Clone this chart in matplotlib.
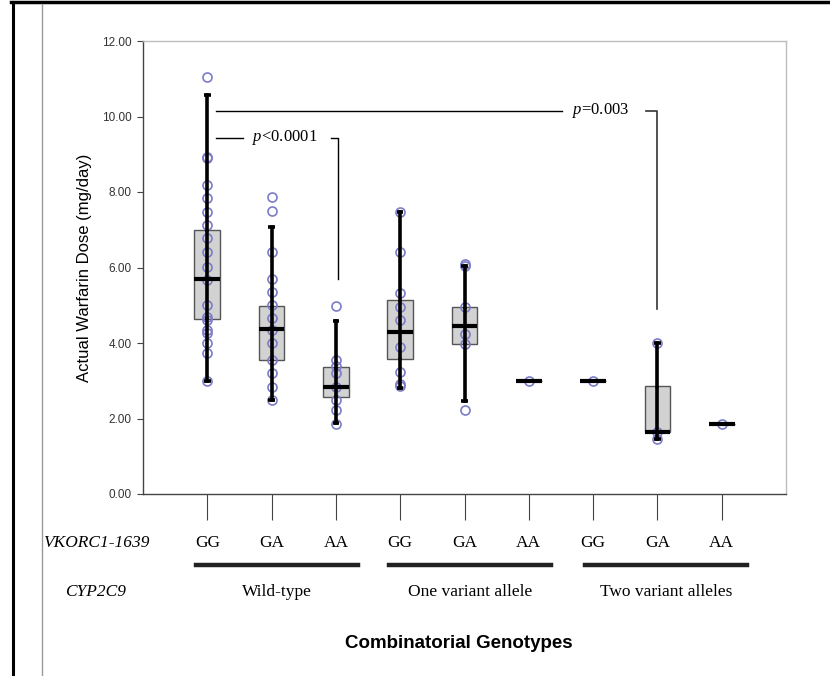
import matplotlib
matplotlib.use("Agg")
import matplotlib.pyplot as plt
from matplotlib.lines import Line2D
import numpy as np

plt.rcParams['mathtext.fontset'] = 'custom'
plt.rcParams['mathtext.it'] = 'Liberation Serif:italic'
plt.rcParams['mathtext.rm'] = 'Liberation Serif'

# ---- data ----
vkorc1_labels = ["GG", "GA", "AA", "GG", "GA", "AA", "GG", "GA", "AA"]
cyp_groups = ["Wild-type", "One variant allele", "Two variant alleles"]
yticks = [0, 2, 4, 6, 8, 10, 12]

q1 = [4.64, 3.55, 2.58, 3.58, 3.98, 3.00, 3.00, 1.64, 1.85]
med = [5.70, 4.36, 2.83, 4.29, 4.44, 3.00, 3.00, 1.64, 1.85]
q3 = [6.99, 4.98, 3.37, 5.14, 4.96, 3.00, 3.00, 2.85, 1.85]
whislo = [2.99, 2.49, 1.88, 2.81, 2.46, 3.00, 3.00, 1.45, 1.85]
whishi = [10.57, 7.08, 4.59, 7.48, 6.03, 3.00, 3.00, 4.00, 1.85]

pts_wt_gg = [11.04, 8.94, 8.90, 8.19, 7.83, 7.48, 7.13, 6.77, 6.42, 6.02, 5.67,
             5.01, 4.70, 4.61, 4.34, 4.26, 3.99, 3.73, 3.00]
pts_wt_ga = [7.86, 7.50, 6.42, 5.70, 5.36, 5.01, 4.65, 4.34, 3.99, 3.55, 3.20, 2.84, 2.49]
pts_wt_aa = [4.98, 3.55, 3.40, 3.20, 2.84, 2.49, 2.22, 1.85]
pts_one_gg = [7.48, 6.41, 5.32, 4.96, 4.61, 3.90, 3.24, 2.92, 2.86]
pts_one_ga = [6.08, 6.03, 4.96, 4.25, 3.98, 2.23]
pts_one_aa = [3.00]
pts_two_gg = [3.00]
pts_two_ga = [4.00, 1.64, 1.45]
pts_two_aa = [1.85]
points = [pts_wt_gg, pts_wt_ga, pts_wt_aa, pts_one_gg, pts_one_ga,
          pts_one_aa, pts_two_gg, pts_two_ga, pts_two_aa]

p_text1 = r"$\mathit{p}$<0.0001"
p_text2 = r"$\mathit{p}$=0.003"

# ---- figure ----
fig = plt.figure(figsize=(8.30, 6.76), dpi=100)
W, H = 830, 676
ax = fig.add_axes([143 / W, (H - 494) / H, (786 - 143) / W, (494 - 41) / H])

positions = np.arange(1, len(vkorc1_labels) + 1)
stats = [dict(q1=a, med=b, q3=c, whislo=d, whishi=e, fliers=[])
         for a, b, c, d, e in zip(q1, med, q3, whislo, whishi)]

ax.bxp(stats, positions=positions, widths=0.40, patch_artist=True,
       showfliers=False, capwidths=0.1,
       boxprops=dict(facecolor='#d2d2d2', edgecolor='#555555', linewidth=1.0, zorder=2),
       medianprops=dict(color='black', linewidth=3.0, zorder=5, solid_capstyle='butt'),
       whiskerprops=dict(color='black', linewidth=2.6, zorder=5),
       capprops=dict(color='black', linewidth=2.6, zorder=5, solid_capstyle='butt'))
# whisker line continues through the box
ax.vlines(positions, q1, q3, color='black', linewidth=2.6, zorder=5)

for pos, vals in zip(positions, points):
    ax.plot([pos] * len(vals), vals, linestyle='none', marker='o', markersize=6.5,
            markerfacecolor='none', markeredgecolor='#7c7cc8', markeredgewidth=1.2, zorder=4)

ax.set_xlim(0, 10)
ax.set_ylim(0, 12)
ax.set_yticks(yticks)
ax.set_yticklabels([f"{v:.2f}" for v in yticks], fontsize=8.5, color='#333333',
                   family='Liberation Sans')
ax.tick_params(axis='y', length=4, width=0.8, color='#444444', pad=4)
ax.set_xticks(positions)
ax.set_xticklabels([])
ax.tick_params(axis='x', length=19, width=0.8, color='#444444')

ax.spines['left'].set_color('#444444')
ax.spines['bottom'].set_color('#444444')
ax.spines['top'].set_color('#bdbdbd')
ax.spines['right'].set_color('#bdbdbd')
for s in ax.spines.values():
    s.set_linewidth(1.0)

ax.set_ylabel("Actual Warfarin Dose (mg/day)", fontsize=12, family='Liberation Sans',
              labelpad=7)

# significance annotations
ax.plot([1.135, 1.555], [9.44, 9.44], color='black', lw=1.0)
ax.text(2.21, 9.44, p_text1, ha='center', va='center', fontsize=12, family='Liberation Serif')
ax.plot([2.92, 3.03, 3.03], [9.44, 9.44, 5.70], color='black', lw=1.0)

ax.plot([1.135, 6.52], [10.15, 10.15], color='black', lw=1.0)
ax.text(7.12, 10.15, p_text2, ha='center', va='center', fontsize=12, family='Liberation Serif')
ax.plot([7.83, 7.99, 7.99], [10.15, 10.15, 4.90], color='#333333', lw=1.2)

# genotype labels below axis
def fy(py):
    return 1 - py / H

for pos, lab in zip(positions, vkorc1_labels):
    fig.text(ax.transData.transform((pos, 0))[0] / W, fy(543), lab, ha='center', va='center',
             fontsize=12.5, family='Liberation Serif')
fig.text(96 / W, fy(543), "VKORC1-1639", ha='center', va='center', fontsize=12.5,
         family='Liberation Serif', style='italic')
fig.text(96 / W, fy(592), "CYP2C9", ha='center', va='center', fontsize=12.5,
         family='Liberation Serif', style='italic')

group_spans = [(0.82, 3.34), (3.83, 6.35), (6.87, 9.39)]
for (x0, x1), name in zip(group_spans, cyp_groups):
    px0 = ax.transData.transform((x0, 0))[0] / W
    px1 = ax.transData.transform((x1, 0))[0] / W
    fig.add_artist(Line2D([px0, px1], [fy(565), fy(565)], color='#222222', lw=3.2))
    fig.text((px0 + px1) / 2, fy(592), name, ha='center', va='center', fontsize=12.5,
             family='Liberation Serif')

fig.text(459 / W, fy(643), "Combinatorial Genotypes", ha='center', va='center',
         fontsize=13.5, family='Liberation Sans', weight='bold')

# outer frame lines
fig.add_artist(Line2D([11 / W, 1], [fy(2), fy(2)], color='black', lw=2.5))
fig.add_artist(Line2D([13 / W, 13 / W], [0, fy(2)], color='black', lw=2.2))
fig.add_artist(Line2D([41.5 / W, 41.5 / W], [0, fy(4)], color='#999999', lw=1.0))

fig.savefig("out.png", dpi=100)
